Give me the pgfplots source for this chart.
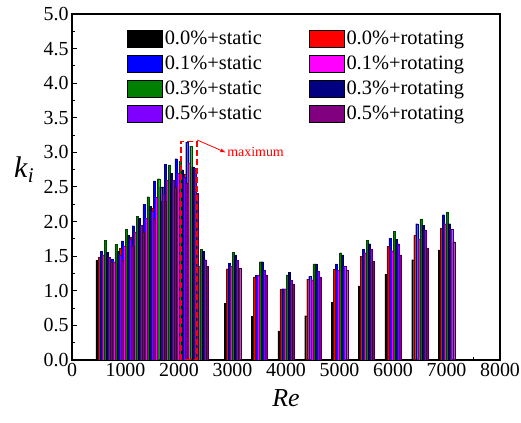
\documentclass[border=0pt]{standalone}
\usepackage{fontspec}
\setmainfont{Liberation Serif}
\newfontfamily\tnr{Liberation Serif}
\usepackage{pgfplots}
\pgfplotsset{compat=1.18}
\usepackage{pgfplotstable}
\definecolor{cred}{RGB}{255,0,0}
\definecolor{cblue}{RGB}{0,0,255}
\definecolor{cmagenta}{RGB}{255,0,255}
\definecolor{cgreen}{RGB}{0,128,0}
\definecolor{cnavy}{RGB}{0,0,128}
\definecolor{cviolet}{RGB}{128,0,255}
\definecolor{cpurple}{RGB}{128,0,128}

\pgfplotstableread{
Re   s1   s2   s3   s4   s5   s6   s7   s8
600  1.44 1.48 1.57 1.52 1.73 1.56 1.48 1.42
800  1.35 1.45 1.46 1.42 1.67 1.57 1.52 1.45
1000 1.55 1.61 1.72 1.65 1.89 1.80 1.75 1.65
1200 1.70 1.78 1.94 1.85 2.08 2.05 1.95 1.85
1400 1.80 1.91 2.25 2.05 2.36 2.22 2.15 2.05
1600 2.05 2.20 2.59 2.35 2.62 2.50 2.40 2.30
1800 2.30 2.50 2.83 2.60 2.82 2.70 2.60 2.50
2000 2.45 2.60 2.91 2.70 2.87 2.75 2.65 2.55
2200 2.55 2.69 3.15 2.85 3.09 2.79 2.77 2.41
2400 1.20 1.30 1.40 1.36 1.60 1.57 1.45 1.35
3000 0.82 1.32 1.40 1.35 1.56 1.52 1.44 1.33
3500 0.63 1.20 1.22 1.23 1.42 1.42 1.30 1.23
4000 0.42 1.02 1.03 1.03 1.23 1.27 1.15 1.10
4500 0.64 1.17 1.21 1.16 1.39 1.39 1.28 1.20
5000 0.83 1.31 1.39 1.30 1.55 1.52 1.35 1.30
5500 1.07 1.50 1.60 1.55 1.73 1.68 1.60 1.43
6000 1.24 1.64 1.76 1.58 1.86 1.74 1.68 1.52
6500 1.45 1.80 1.97 1.75 2.04 1.95 1.88 1.62
7000 1.59 1.90 2.10 1.97 2.14 1.97 1.89 1.71
}\data

\pgfplotsset{
  mybar/.style={ybar, bar width=38, draw=#1!50!black, line width=0.2pt, fill=#1,
    legend image code/.code={\draw[fill=#1, draw=black, line width=0.6bp] (0bp,-8.5bp) rectangle (35bp,8.5bp);}},
}

\begin{document}
\begin{tikzpicture}
\begin{axis}[name=ax,
  scale only axis, width=428bp, height=346bp,
  xmin=0, xmax=8000, ymin=0, ymax=5,
  xtick={0,1000,...,8000}, minor x tick num=1,
  ytick={0,0.5,...,5}, minor y tick num=1,
  xtick pos=left, ytick pos=left, tick align=inside,
  major tick length=5bp, minor tick length=3bp,
  axis line style={line width=1.2bp},
  every tick/.style={black, line width=1bp},
  /pgf/number format/assume math mode=true,
  tick label style={font=\tnr\fontsize{20}{24}\selectfont},
  xticklabel style={/pgf/number format/1000 sep={}},
  yticklabel style={/pgf/number format/fixed, /pgf/number format/fixed zerofill, /pgf/number format/precision=1},
  xlabel={\textit{Re}},
  xlabel style={font=\tnr\fontsize{26}{30}\selectfont, at={(rel axis cs:0.5,-0.075)}, anchor=north},
  ylabel={\textit{k}\textsubscript{\textit{i}}},
  ylabel style={font=\tnr\fontsize{30}{34}\selectfont, rotate=-90, at={(rel axis cs:-0.112,0.55)}, anchor=center},
  legend columns=2,
  legend cell align=left,
  legend style={draw=none, fill=none, at={(0.1285,0.957)}, anchor=north west,
    font=\tnr\fontsize{20.5}{24}\selectfont, inner sep=0pt, row sep=6bp,
    /tikz/every even column/.append style={column sep=45bp}},
]
\addplot[mybar=black,    bar shift=-133] table[x=Re,y=s1]{\data};
\addlegendentry{0.0\%+static}
\addplot[mybar=cred,     bar shift=-95]  table[x=Re,y=s2]{\data};
\addlegendentry{0.0\%+rotating}
\addplot[mybar=cblue,    bar shift=-57]  table[x=Re,y=s3]{\data};
\addlegendentry{0.1\%+static}
\addplot[mybar=cmagenta, bar shift=-19]  table[x=Re,y=s4]{\data};
\addlegendentry{0.1\%+rotating}
\addplot[mybar=cgreen,   bar shift=19]   table[x=Re,y=s5]{\data};
\addlegendentry{0.3\%+static}
\addplot[mybar=cnavy,    bar shift=57]   table[x=Re,y=s6]{\data};
\addlegendentry{0.3\%+rotating}
\addplot[mybar=cviolet,  bar shift=95]   table[x=Re,y=s7]{\data};
\addlegendentry{0.5\%+static}
\addplot[mybar=cpurple,  bar shift=133]  table[x=Re,y=s8]{\data};
\addlegendentry{0.5\%+rotating}

\draw[red, line width=1.2bp, dash pattern=on 6bp off 3bp] (axis cs:2037,0) rectangle (axis cs:2336,3.16);
\draw[red, line width=0.8bp, -latex] (axis cs:2336,3.18) -- (axis cs:2870,3.0);
\node[red, anchor=west, inner sep=1bp, font=\tnr\fontsize{14}{16}\selectfont] at (axis cs:2880,3.0) {maximum};
\end{axis}
\pgfresetboundingbox
\path[use as bounding box] ([xshift=-72bp,yshift=-63bp]ax.south west) rectangle ([xshift=21bp,yshift=14bp]ax.north east);
\end{tikzpicture}
\end{document}
